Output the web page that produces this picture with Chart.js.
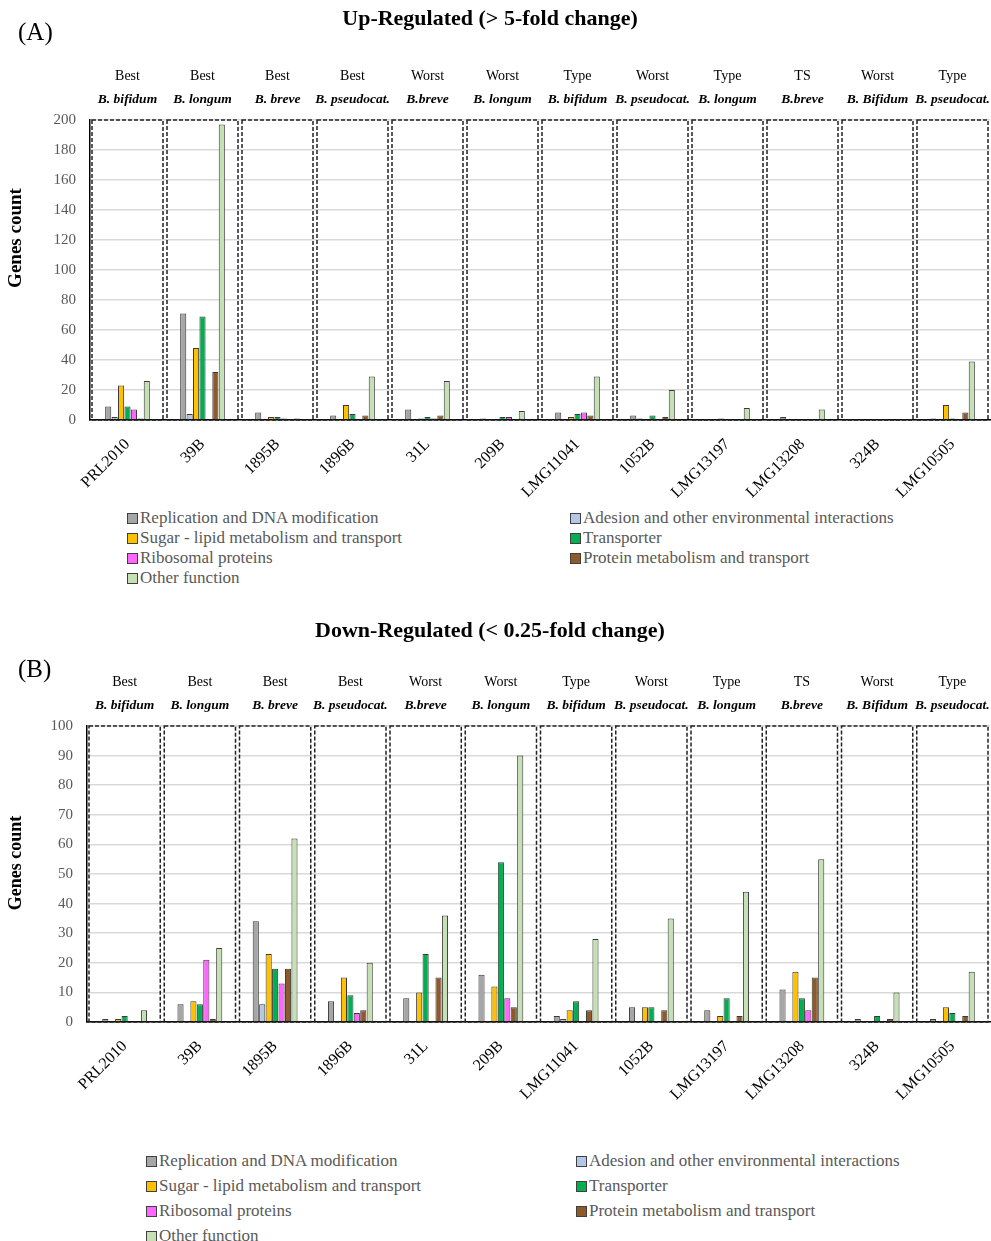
<!DOCTYPE html>
<html>
<head>
<meta charset="utf-8">
<script src="https://cdn.jsdelivr.net/npm/chart.js@4.4.0/dist/chart.umd.min.js"></script>
<style>
  body { margin: 0; background: #fff; font-family: 'Liberation Serif', serif; }
  .wrap { position: absolute; left: 0; width: 991px; }
  .legend { position: absolute; font-size: 17px; color: #595959; }
  .legend .item { position: absolute; white-space: nowrap; display: flex; align-items: center; }
  .legend .box { width: 9px; height: 9px; border: 1px solid #404040; margin-right: 2px; }
</style>
</head>
<body>
<div class="wrap" style="top:0;height:505px"><canvas id="chartUp"></canvas></div>
<div class="legend" id="legendUp"></div>
<div class="wrap" style="top:612px;height:508px"><canvas id="chartDown"></canvas></div>
<div class="legend" id="legendDown"></div>

<script>
const strains = ['PRL2010', '39B', '1895B', '1896B', '31L', '209B', 'LMG11041', '1052B', 'LMG13197', 'LMG13208', '324B', 'LMG10505'];
const status = ['Best', 'Best', 'Best', 'Best', 'Worst', 'Worst', 'Type', 'Worst', 'Type', 'TS', 'Worst', 'Type'];
const species = ['B. bifidum', 'B. longum', 'B. breve', 'B. pseudocat.', 'B.breve', 'B. longum', 'B. bifidum', 'B. pseudocat.', 'B. longum', 'B.breve', 'B. Bifidum', 'B. pseudocat.'];

const seriesNames = ['Replication and DNA modification', 'Adesion and other environmental interactions', 'Sugar - lipid metabolism and transport', 'Transporter', 'Ribosomal proteins', 'Protein metabolism and transport', 'Other function'];
const seriesColors = ['#a6a6a6', '#b4c7e7', '#ffc000', '#00b050', '#ff66ff', '#8f5a2a', '#c5e0b4'];

// up-regulated (> 5-fold)
const replicationUp = [9, 71, 5, 3, 7, 1, 5, 3, 0, 2, 0, 1];
const adesionUp = [2, 4, 0, 0, 0, 0, 0, 1, 0, 0, 0, 0];
const sugarUp = [23, 48, 2, 10, 1, 0, 2, 0, 1, 0, 0, 10];
const transporterUp = [9, 69, 2, 4, 2, 2, 4, 3, 0, 0, 0, 1];
const ribosomalUp = [7, 0, 1, 0, 1, 2, 5, 0, 0, 0, 0, 0];
const proteinUp = [1, 32, 0, 3, 3, 0, 3, 2, 0, 0, 0, 5];
const otherUp = [26, 197, 1, 29, 26, 6, 29, 20, 8, 7, 0, 39];

// down-regulated (< 0.25-fold)
const replicationDown = [1, 6, 34, 7, 8, 16, 2, 5, 4, 11, 1, 1];
const adesionDown = [0, 0, 6, 0, 0, 0, 1, 0, 0, 0, 0, 0];
const sugarDown = [1, 7, 23, 15, 10, 12, 4, 5, 2, 17, 0, 5];
const transporterDown = [2, 6, 18, 9, 23, 54, 7, 5, 8, 8, 2, 3];
const ribosomalDown = [0, 21, 13, 3, 0, 8, 0, 0, 0, 4, 0, 0];
const proteinDown = [0, 1, 18, 4, 15, 5, 4, 4, 2, 15, 1, 2];
const otherDown = [4, 25, 62, 20, 36, 90, 28, 35, 44, 55, 10, 17];

const upSeries = [replicationUp, adesionUp, sugarUp, transporterUp, ribosomalUp, proteinUp, otherUp];
const downSeries = [replicationDown, adesionDown, sugarDown, transporterDown, ribosomalDown, proteinDown, otherDown];

const serif = 'Liberation Serif';

function makeDatasets(series) {
  return series.map((vals, i) => ({
    label: seriesNames[i],
    data: vals,
    backgroundColor: seriesColors[i],
    borderColor: '#3a3a3a',
    borderWidth: 1,
    categoryPercentage: 0.6,
    barPercentage: 0.95
  }));
}

// dashed boxes + header texts drawn from the scales
const groupDecor = {
  id: 'groupDecor',
  beforeDatasetsDraw(chart, args, opts) {
    const x = chart.scales.x, y = chart.scales.y;
    const ctx = chart.ctx;
    const half = (x.getPixelForValue(1) - x.getPixelForValue(0)) / 2;
    const top = y.getPixelForValue(y.max);
    const bottom = y.getPixelForValue(0);
    ctx.save();
    ctx.strokeStyle = '#222';
    ctx.lineWidth = 1.5;
    ctx.setLineDash([4, 2]);
    strains.forEach((s, i) => {
      const c = x.getPixelForValue(i);
      ctx.strokeRect(c - half + 2, top, half * 2 - 4, bottom - top);
    });
    ctx.restore();
  },
  afterDraw(chart, args, opts) {
    const x = chart.scales.x;
    const ctx = chart.ctx;
    const area = chart.chartArea;
    ctx.save();
    ctx.fillStyle = '#000';
    ctx.textAlign = 'center';
    ctx.textBaseline = 'middle';
    ctx.font = 'bold 22px ' + serif;
    ctx.fillText(opts.title, 490, 19);
    ctx.textAlign = 'left';
    ctx.font = '25px ' + serif;
    ctx.fillText(opts.panel, 18, opts.panelY);
    ctx.textAlign = 'center';
    strains.forEach((s, i) => {
      const c = x.getPixelForValue(i);
      ctx.font = '14px ' + serif;
      ctx.fillText(status[i], c, area.top - 44);
      ctx.font = 'italic bold 13.5px ' + serif;
      ctx.fillText(species[i], c, area.top - 20);
    });
    // y axis title
    ctx.translate(16, opts.yTitleY);
    ctx.rotate(-Math.PI / 2);
    ctx.font = 'bold ' + opts.yTitleSize + 'px ' + serif;
    ctx.fillText('Genes count', 0, 0);
    ctx.restore();
  }
};

function makeChart(id, series, maxY, step, padTop, xHeight, yWidth, deco) {
  return new Chart(document.getElementById(id), {
    type: 'bar',
    data: { labels: strains, datasets: makeDatasets(series) },
    plugins: [groupDecor],
    options: {
      responsive: true,
      maintainAspectRatio: false,
      animation: false,
      layout: { padding: { top: padTop, right: 1, left: 0, bottom: 0 } },
      plugins: {
        legend: { display: false },
        tooltip: { enabled: false },
        groupDecor: deco
      },
      scales: {
        x: {
          grid: { display: false },
          border: { display: true, color: '#000', width: 1.5 },
          ticks: {
            color: '#000',
            font: { family: serif, size: 16 },
            minRotation: 45,
            maxRotation: 45,
            autoSkip: false,
            padding: 7
          },
          afterFit(scale) { scale.height = xHeight; }
        },
        y: {
          min: 0,
          max: maxY,
          ticks: {
            stepSize: step,
            color: '#595959',
            font: { family: serif, size: 15 },
            padding: 14
          },
          grid: { color: '#d9d9d9', lineWidth: 1.5, drawTicks: false },
          border: { display: true, color: '#000', width: 1.5 },
          afterFit(scale) { scale.width = yWidth; }
        }
      }
    }
  });
}

makeChart('chartUp', upSeries, 200, 20, 120, 85, 90,
  { title: 'Up-Regulated (> 5-fold change)', panel: '(A)', panelY: 33, yTitleY: 238, yTitleSize: 19 });
makeChart('chartDown', downSeries, 100, 10, 114, 98, 87,
  { title: 'Down-Regulated (< 0.25-fold change)', panel: '(B)', panelY: 58, yTitleY: 251, yTitleSize: 18 });

function buildLegend(id, top, left, left2, rowGap) {
  const el = document.getElementById(id);
  el.style.top = top + 'px';
  el.style.left = '0px';
  seriesNames.forEach((name, i) => {
    const item = document.createElement('div');
    item.className = 'item';
    const col = i < 6 ? i % 2 : 0;
    const row = Math.floor(i / 2);
    item.style.left = (col ? left2 : left) + 'px';
    item.style.top = (row * rowGap) + 'px';
    item.innerHTML = '<span class="box" style="background:' + seriesColors[i] + '"></span>' + name;
    el.appendChild(item);
  });
}
buildLegend('legendUp', 508, 127, 570, 20);
buildLegend('legendDown', 1151, 146, 576, 25);
</script>
</body>
</html>
